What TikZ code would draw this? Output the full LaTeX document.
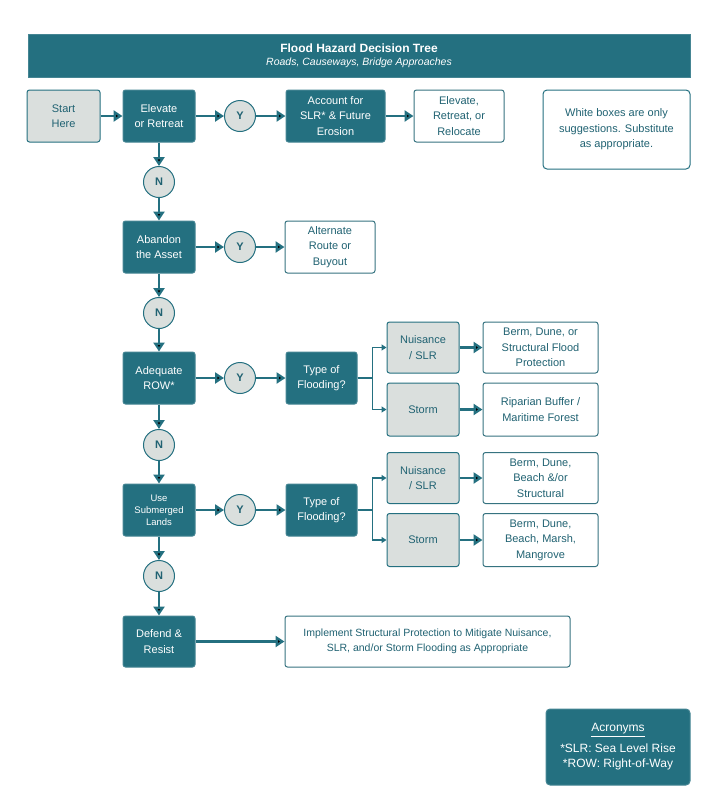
\documentclass[tikz,border=0pt]{standalone}
\usepackage{fontspec}
\setmainfont{Liberation Sans}
\usetikzlibrary{arrows.meta}
\definecolor{tealbox}{RGB}{36,112,128}
\definecolor{greyfill}{RGB}{218,223,221}
\definecolor{tealtext}{RGB}{32,98,114}

\begin{document}
\begin{tikzpicture}[x=1pt,y=-1pt,
  dark node/.style={rectangle,rounded corners=2.5pt,draw=tealbox!85!white,line width=1pt,fill=tealbox,text=white,
    minimum width=72pt,minimum height=52pt,inner sep=1pt,align=center,font=\fontsize{11}{15.5}\selectfont},
  grey node/.style={dark node,fill=greyfill,draw=tealbox,text=tealtext},
  white node/.style={dark node,fill=white,draw=tealbox!80!gray,text=tealtext},
  yn node/.style={circle,draw=tealbox,line width=1pt,fill=greyfill,text=tealtext,minimum size=31pt,inner sep=0pt,
    font=\fontsize{11}{13}\selectfont\bfseries},
  link/.style={draw=tealbox,line width=2.4pt,-{Triangle[length=9pt,width=11pt]}},
  branch/.style={draw=tealbox,line width=1.4pt,-{Triangle[length=5pt,width=6pt]}}]

  \useasboundingbox (0,0) rectangle (720,807);

  % title
  \node[dark node,minimum width=662pt,minimum height=43pt,rounded corners=0pt] (title) at (359,55.5)
    {{\fontsize{12}{14}\selectfont\bfseries Flood Hazard Decision Tree}\\[-3pt]
     {\fontsize{10.5}{13}\selectfont\itshape Roads, Causeways, Bridge Approaches}};

  % first row
  \node[grey node,minimum width=73pt] (start) at (63.5,116) {Start\\Here};
  \node[dark node] (elevate) at (159,116) {Elevate\\or Retreat};
  \node[yn node] (y1) at (240,116) {Y};
  \node[dark node,minimum width=99pt] (account) at (335.5,116) {Account for\\SLR* \& Future\\Erosion};
  \node[white node,minimum width=90pt] (relocate) at (459,116) {Elevate,\\Retreat, or\\Relocate};
  \node[white node,minimum width=147pt,minimum height=79pt,draw=tealbox,rounded corners=4pt] (note) at (616.5,129.5)
    {White boxes are only\\suggestions. Substitute\\as appropriate.};

  % second row
  \node[yn node] (n1) at (159,182) {N};
  \node[dark node] (abandon) at (159,247) {Abandon\\the Asset};
  \node[yn node] (y2) at (240,247) {Y};
  \node[white node,minimum width=90pt] (altroute) at (330,247) {Alternate\\Route or\\Buyout};

  % third row
  \node[yn node] (n2) at (159,313) {N};
  \node[dark node] (row) at (159,378) {Adequate\\ROW*};
  \node[yn node] (y3) at (240,378) {Y};
  \node[dark node,minimum width=71pt] (type1) at (321.5,378) {Type of\\Flooding?};
  \node[grey node,minimum height=51pt] (nuis1) at (423,347.5) {Nuisance\\/ SLR};
  \node[grey node,minimum height=53pt] (storm1) at (423,409.5) {Storm};
  \node[white node,minimum width=115pt,minimum height=51pt] (berm1) at (540.5,347.5)
    {Berm, Dune, or\\Structural Flood\\Protection};
  \node[white node,minimum width=115pt,minimum height=53pt] (riparian) at (540.5,409.5)
    {Riparian Buffer /\\Maritime Forest};

  % fourth row
  \node[yn node] (n3) at (159,445) {N};
  \node[dark node,font=\fontsize{9.5}{12}\selectfont] (submerged) at (159,510) {Use\\Submerged\\Lands};
  \node[yn node] (y4) at (240,510) {Y};
  \node[dark node,minimum width=71pt] (type2) at (321.5,510) {Type of\\Flooding?};
  \node[grey node,minimum height=51pt] (nuis2) at (423,478) {Nuisance\\/ SLR};
  \node[grey node,minimum height=53pt] (storm2) at (423,540) {Storm};
  \node[white node,minimum width=115pt,minimum height=51pt] (berm2) at (540.5,478)
    {Berm, Dune,\\Beach \&/or\\Structural};
  \node[white node,minimum width=115pt,minimum height=53pt] (berm3) at (540.5,540)
    {Berm, Dune,\\Beach, Marsh,\\Mangrove};

  % last row
  \node[yn node] (n4) at (159,576) {N};
  \node[dark node,minimum height=51pt] (defend) at (159,641.5) {Defend \&\\Resist};
  \node[white node,minimum width=285pt,minimum height=51pt,font=\fontsize{10.5}{14.5}\selectfont] (implement) at (427.5,641.5)
    {Implement Structural Protection to Mitigate Nuisance,\\SLR, and/or Storm Flooding as Appropriate};

  % acronyms
  \node[dark node,minimum width=144pt,minimum height=76pt,rounded corners=4pt,font=\fontsize{12}{15}\selectfont] (acro) at (618,747)
    {\underline{Acronyms}\\[6pt]*SLR: Sea Level Rise\\*ROW: Right-of-Way};

  \path[link]
    (start) edge (elevate)
    (elevate) edge (y1)
    (y1) edge (account)
    (account) edge (relocate)
    (elevate) edge (n1)
    (n1) edge (abandon)
    (abandon) edge (y2)
    (y2) edge (altroute)
    (abandon) edge (n2)
    (n2) edge (row)
    (row) edge (y3)
    (y3) edge (type1)
    (nuis1) edge (berm1)
    (storm1) edge (riparian)
    (row) edge (n3)
    (n3) edge (submerged)
    (submerged) edge (y4)
    (y4) edge (type2)
    (nuis2) edge (berm2)
    (storm2) edge (berm3)
    (submerged) edge (n4)
    (n4) edge (defend)
    (defend) edge (implement);

  \draw[branch] (type1.east) -- ++(15,0) |- (nuis1.west);
  \draw[branch] (type1.east) -- ++(15,0) |- (storm1.west);
  \draw[branch] (type2.east) -- ++(15,0) |- (nuis2.west);
  \draw[branch] (type2.east) -- ++(15,0) |- (storm2.west);
\end{tikzpicture}
\end{document}
